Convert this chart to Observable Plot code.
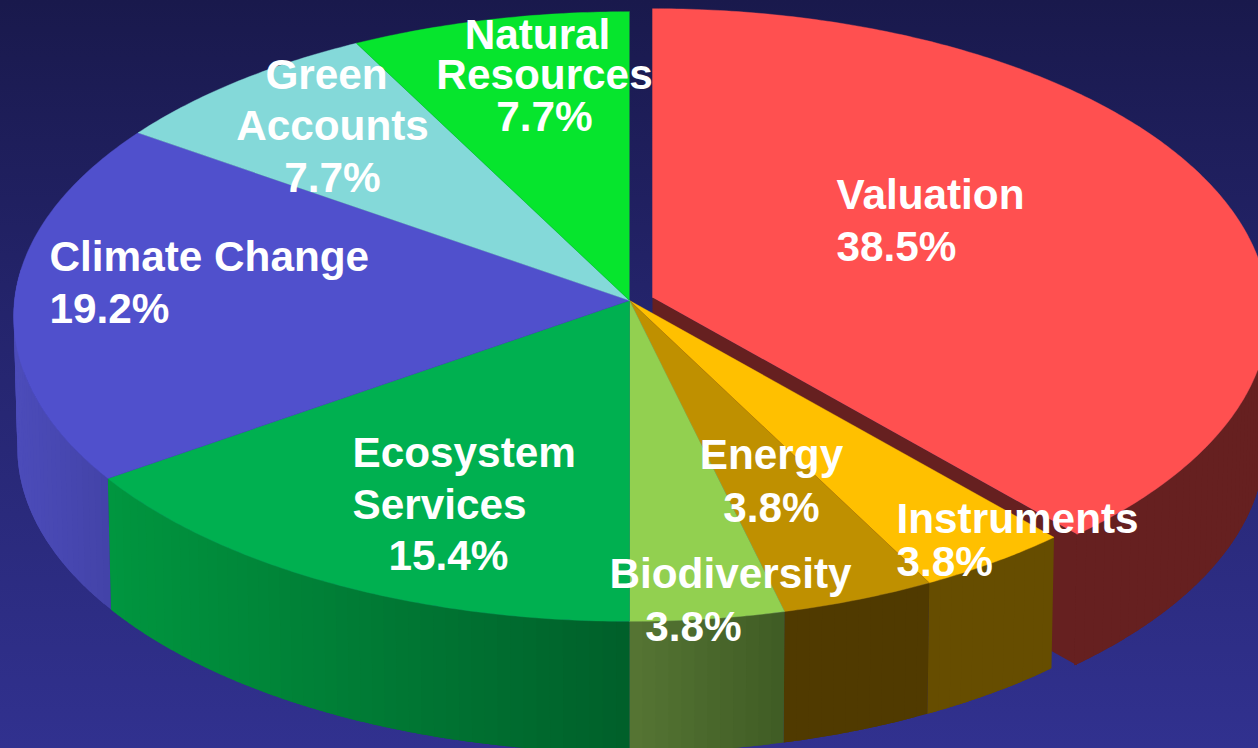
<!DOCTYPE html>
<html>
<head>
<meta charset="utf-8">
<style>
html,body{margin:0;padding:0;width:1258px;height:748px;overflow:hidden;background:#24246c}
svg{display:block}
</style>
<script src="https://cdn.jsdelivr.net/npm/d3@7"></script>
<script src="https://cdn.jsdelivr.net/npm/@observablehq/plot@0.6"></script>
</head>
<body>
<div id="chart"></div>
<script>
// ---- data ----
const categories = ["Valuation","Instruments","Energy","Biodiversity","Ecosystem Services","Climate Change","Green Accounts","Natural Resources"];
const counts = [10,1,1,1,4,5,2,2];

// ---- styles ----
const topColors  = ["#FF5050","#FFC000","#BF9000","#92D050","#00B050","#5050CC","#84D9D9","#06E52D"];
const wallStart  = ["#662020","#664D00","#503A00","#567534","#00963F","#4C4CBA","#84D9D9","#06E52D"];
const wallEnd    = ["#662020","#664D00","#503A00","#3F5C24","#005F2A","#4343A8","#84D9D9","#06E52D"];

// ---- label layout (text lines per category, placed in the chart's own x/y domain) ----
const labelLines = [
  {c:0,text:"Valuation",anchor:"start",x:836,y:208},
  {c:0,value:true,anchor:"start",x:836,y:260},
  {c:1,text:"Instruments",anchor:"start",x:896,y:532},
  {c:1,value:true,anchor:"start",x:896,y:575},
  {c:2,text:"Energy",anchor:"middle",x:771,y:468},
  {c:2,value:true,anchor:"middle",x:771,y:521},
  {c:3,text:"Biodiversity",anchor:"middle",x:730,y:587},
  {c:3,value:true,anchor:"middle",x:693,y:640},
  {c:4,text:"Ecosystem",anchor:"start",x:352,y:466},
  {c:4,text:"Services",anchor:"start",x:352,y:518},
  {c:4,value:true,anchor:"middle",x:448,y:569},
  {c:5,text:"Climate Change",anchor:"start",x:49,y:270},
  {c:5,value:true,anchor:"start",x:49,y:322},
  {c:6,text:"Green",anchor:"middle",x:326,y:88},
  {c:6,text:"Accounts",anchor:"middle",x:332,y:139},
  {c:6,value:true,anchor:"middle",x:332,y:191},
  {c:7,text:"Natural",anchor:"middle",x:537,y:48},
  {c:7,text:"Resources",anchor:"middle",x:544,y:88},
  {c:7,value:true,anchor:"middle",x:544,y:130}
];

// ---- 3D pie projection ----
const W = 1258, H = 748;
const cx = 629, cy = 300, rx = 615, ry = 304, k = 0.0525;
const depth = 131, baseShrink = 0.994;
const explode = {dx:23, dy:-3};
const total = d3.sum(counts);
const arcs = d3.pie().sort(null).value(d=>d).startAngle(0).endAngle(2*Math.PI)(counts);

function topPoint(a){
  const u = Math.sin(a), v = -Math.cos(a), w = 1 - k*v;
  return {x: cx + rx*u/w, y: cy + ry*v/w, v};
}
function basePoint(a){
  const p = topPoint(a);
  return {x: cx + (p.x-cx)*baseShrink, y: p.y + depth, v:p.v};
}
const shift = (p,o)=>({x:p.x+o.dx,y:p.y+o.dy});
const none = {dx:0,dy:0};

const wallPolys = [], topPolys = [];
let pid = 0;
function addPoly(list,points,color){
  const id = pid++;
  points.forEach(p=>list.push({id,x:p.x,y:p.y,color}));
}
function sweep(a0,a1,step){
  const n = Math.max(1,Math.ceil((a1-a0)/step));
  return d3.range(n+1).map(i=>a0+(a1-a0)*i/n);
}
// Each wall strip reaches over the next one, so that the anti-aliased seams never show what is behind
function drawWall(i,o){
  const arc = arcs[i];
  const as = sweep(arc.startAngle,arc.endAngle,Math.PI/150).filter(a=>topPoint(a).v>-0.12);
  if(as.length<2) return;
  const xs = as.map(a=>topPoint(a).x);
  const [x0,x1] = d3.extent(xs);
  const color = d3.interpolateRgb(wallStart[i],wallEnd[i]);
  for(let j=0;j<as.length-1;j++){
    const m = ((xs[j]+xs[j+1])/2 - x0)/((x1-x0)||1);
    const a0 = as[j], a1 = as[Math.min(j+2,as.length-1)];
    const run = sweep(a0,a1,Math.PI/600);
    addPoly(wallPolys,[...run.map(topPoint),...run.slice().reverse().map(basePoint)].map(p=>shift(p,o)),
      d3.rgb(color(m)).formatHex());
  }
}
function drawTop(list,i,o){
  const arc = arcs[i];
  const pts = [{x:cx,y:cy},...sweep(arc.startAngle,arc.endAngle,Math.PI/300).map(topPoint)];
  addPoly(list,pts.map(p=>shift(p,o)),topColors[i]);
}

// Exploded slice: cut face, outer wall, top; all of it stays under the other slices
const behindWalls = [], behindTop = [];
{
  const end = arcs[0].endAngle;
  const a = {x:cx,y:cy}, b = topPoint(end);
  addPoly(behindWalls,[a,b,{x:b.x,y:b.y+depth},{x:a.x,y:a.y+depth}].map(p=>shift(p,explode)),wallStart[0]);
  drawWall(0,explode);
  wallPolys.splice(0).forEach(r=>behindWalls.push(r));
  drawTop(behindTop,0,explode);
}
for(let i=1;i<categories.length;i++) drawWall(i,none);
for(let i=1;i<categories.length;i++) drawTop(topPolys,i,none);

const labels = labelLines.map(d=>({...d,label:d.value?(counts[d.c]/total*100).toFixed(1)+"%":d.text}));

const textMark = anchor => Plot.text(labels.filter(d=>d.anchor===anchor),{
  x:"x",y:"y",text:"label",textAnchor:anchor,dy:-13,fill:"#fff",
  fontSize:42.3,fontWeight:"bold",fontFamily:"'Liberation Sans',Arial,sans-serif"
});
const wallMark = rows => Plot.line(rows,{x:"x",y:"y",z:"id",fill:"color",stroke:null,curve:"linear"});
const topMark = rows => Plot.line(rows,{x:"x",y:"y",z:"id",fill:"color",stroke:"color",strokeWidth:0.4,curve:"linear"});

const chart = Plot.plot({
  width:W,height:H,margin:0,
  x:{domain:[0,W],range:[0,W],axis:null},
  y:{domain:[0,H],range:[0,H],axis:null},
  color:{type:"identity"},
  style:{background:"linear-gradient(180deg,#19194c 0%,#24246c 42%,#31318f 100%)",overflow:"hidden",display:"block"},
  marks:[
    wallMark(behindWalls),
    topMark(behindTop),
    wallMark(wallPolys),
    topMark(topPolys),
    textMark("start"),
    textMark("middle")
  ]
});
document.getElementById("chart").append(chart);
</script>
</body>
</html>
